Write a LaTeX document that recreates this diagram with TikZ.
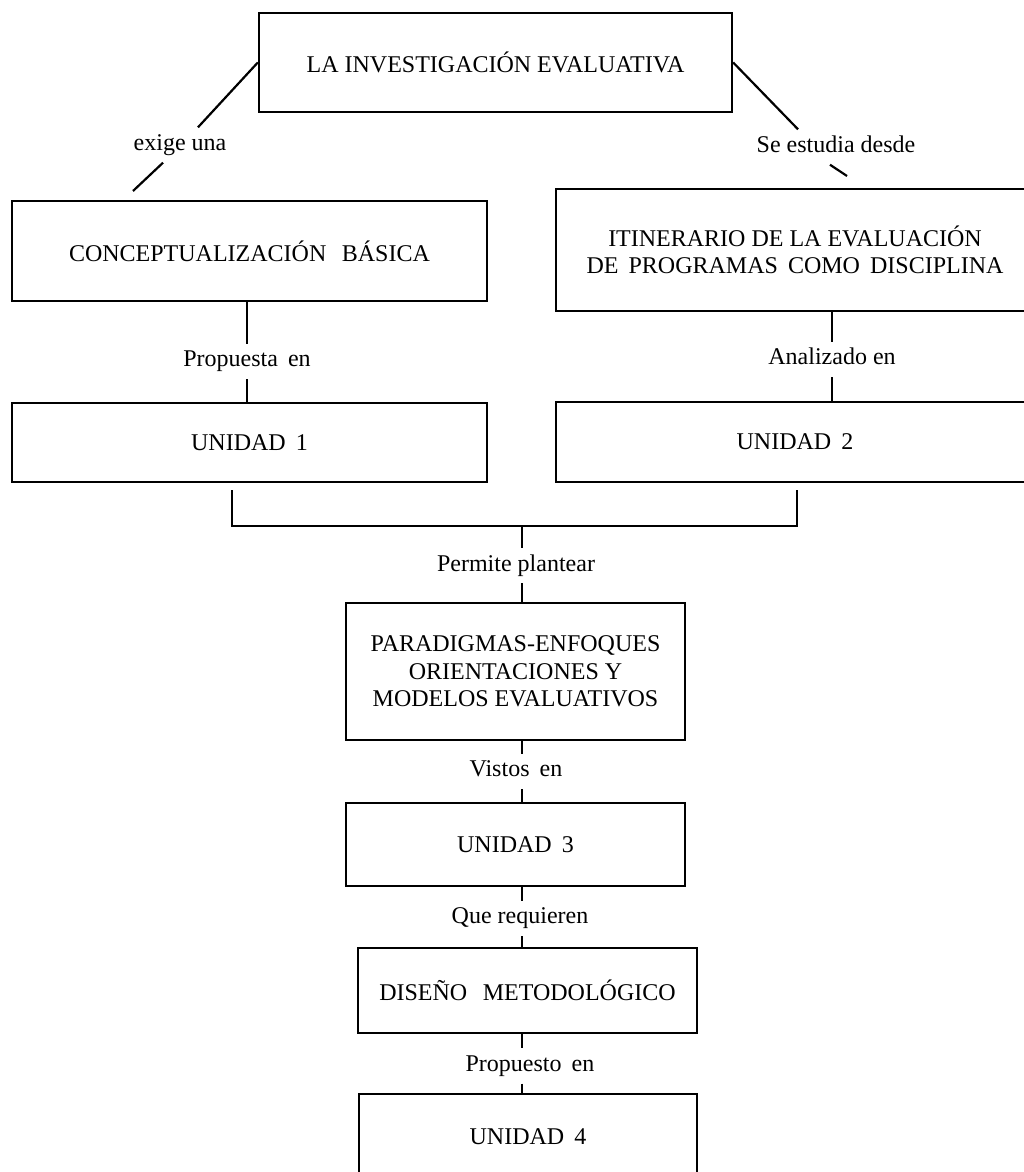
\documentclass[tikz,border=0pt]{standalone}
\usepackage{fontspec}
\setmainfont{Liberation Serif}
\usepackage{tikz}
\usetikzlibrary{positioning}
\newcommand{\wsp}{\hspace{0.65em}}
\newcommand{\nsp}{\hspace{0.42em}}
\tikzset{
  evalbox/.style={draw, line width=2.4pt, align=center, inner sep=0pt, font=\fontsize{24}{27.5}\selectfont},
  evallabel/.style={inner xsep=2pt, inner ysep=7pt, text height=16pt, text depth=5pt, font=\fontsize{24}{27.5}\selectfont},
  evalline/.style={line width=2.2pt}
}
\begin{document}
\begin{tikzpicture}[x=1pt, y=-1pt]
\useasboundingbox (0,0) rectangle (1024,1172);
\node[evalbox, minimum width=473pt, minimum height=99pt] (inv) at (495.5,62.5) {LA INVESTIGACIÓN EVALUATIVA};
\node[evalbox, minimum width=475pt, minimum height=100pt] (conc) at (249.5,251) {CONCEPTUALIZACIÓN\wsp BÁSICA};
\node[evalbox, minimum width=478pt, minimum height=122pt] (itin) at (795,250) {ITINERARIO DE LA EVALUACIÓN\\DE\nsp PROGRAMAS\nsp COMO\nsp DISCIPLINA};
\node[evalbox, minimum width=475pt, minimum height=79pt] (uni1) at (249.5,442.5) {UNIDAD\nsp 1};
\node[evalbox, minimum width=478pt, minimum height=80pt] (uni2) at (795,442) {UNIDAD\nsp 2};
\node[evalbox, minimum width=339pt, minimum height=137pt] (para) at (515.5,671.5) {PARADIGMAS-ENFOQUES\\ORIENTACIONES Y\\MODELOS EVALUATIVOS};
\node[evalbox, minimum width=339pt, minimum height=83pt] (uni3) at (515.5,844.5) {UNIDAD\nsp 3};
\node[evalbox, minimum width=339pt, minimum height=85pt] (dis) at (527.5,990.5) {DISEÑO\wsp METODOLÓGICO};
\node[evalbox, minimum width=338pt, minimum height=86pt] (uni4) at (528,1137) {UNIDAD\nsp 4};

% link words
\node[evallabel] (exige) at (180,145) {exige una};
\node[evallabel] (seest) at (836,147) {Se estudia desde};
\node[evallabel, below=41.5pt of conc, xshift=-2.5pt] (prop1) {Propuesta\nsp en};
\node[evallabel, below=29.5pt of itin, xshift=37pt] (anal) {Analizado en};
\node[evallabel, above=18.5pt of para, xshift=0.5pt] (permite) {Permite plantear};
\node[evallabel, below=12.5pt of para, xshift=0.5pt] (vistos) {Vistos\nsp en};
\node[evallabel, below=13.5pt of uni3, xshift=4.5pt] (quereq) {Que requieren};
\node[evallabel, below=14pt of dis, xshift=2.5pt] (prop2) {Propuesto\nsp en};

\coordinate (exigeend) at (133,191);
\coordinate (seestend) at (847,176);
\coordinate (brL) at (232,490);
\coordinate (brR) at (797,490);
\coordinate (brJ) at (522,526);

\draw[evalline] (inv.west) -- ([xshift=18pt]exige.north);
\draw[evalline] ([xshift=-17pt]exige.south) -- (exigeend);
\draw[evalline] (inv.east) -- ([xshift=-38pt]seest.north);
\draw[evalline] ([xshift=-6pt]seest.south) -- (seestend);

\draw[evalline] (conc.south -| prop1) -- (prop1.north);
\draw[evalline] (prop1.south) -- (uni1.north -| prop1);
\draw[evalline] (itin.south -| anal) -- (anal.north);
\draw[evalline] (anal.south) -- (uni2.north -| anal);

\draw[evalline] (brL) |- (brJ) -| (brR);
\draw[evalline] (brJ) -- (permite.north -| brJ);
\draw[evalline] (permite.south -| brJ) -- (para.north -| brJ);
\draw[evalline] (para.south -| brJ) -- (vistos.north -| brJ);
\draw[evalline] (vistos.south -| brJ) -- (uni3.north -| brJ);
\draw[evalline] (uni3.south -| brJ) -- (quereq.north -| brJ);
\draw[evalline] (quereq.south -| brJ) -- (dis.north -| brJ);
\draw[evalline] (dis.south -| brJ) -- (prop2.north -| brJ);
\draw[evalline] (prop2.south -| brJ) -- (uni4.north -| brJ);
\end{tikzpicture}
\end{document}
